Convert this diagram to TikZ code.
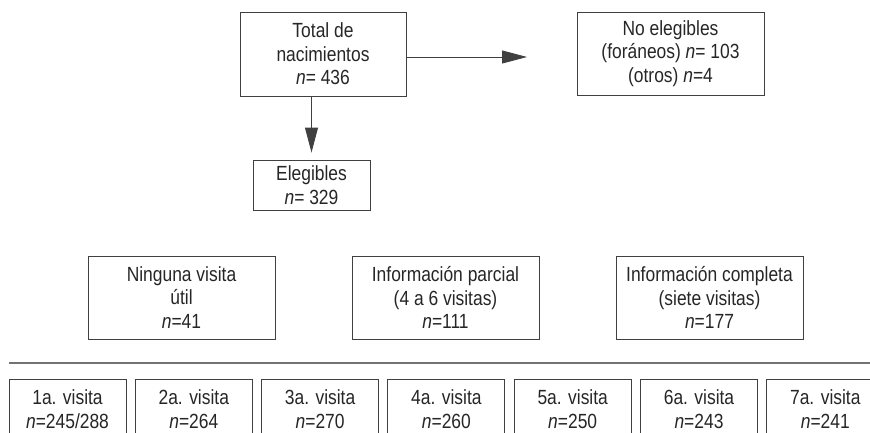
\documentclass[tikz,border=0pt]{standalone}
\usepackage{fontspec}
\setmainfont[FakeStretch=0.85]{Liberation Sans}
\usetikzlibrary{arrows.meta}
\tikzset{>={Triangle[length=25pt,width=13pt]}}
\tikzset{caja/.style={draw=black!75,line width=0.9pt,align=center,inner sep=0pt,text=black!85,
    font=\fontsize{20.5}{23.5}\selectfont}}

\begin{document}
\begin{tikzpicture}[x=1pt,y=1pt]
    \useasboundingbox (0,0) rectangle (870,432);
      \node[caja,minimum width=166pt,minimum height=84pt] (total) at (323,378)
        {Total de\\nacimientos\\\textit{n}= 436};
      \node[caja,minimum width=187pt,minimum height=83pt] (noeleg) at (670.5,378.5)
        {No elegibles\\(for\'aneos) \textit{n}= 103\\(otros) \textit{n}=4};
      \node[caja,minimum width=117pt,minimum height=50pt] (eleg) at (311.5,247)
        {Elegibles\\\textit{n}= 329};
      \coordinate (noelegtip) at (527,375);
      \draw[line width=0.9pt,black!75,->] (total.east |- noelegtip)--(noelegtip);
      \draw[line width=0.9pt,black!75,->] (eleg.north |- total.south)--([yshift=7pt]eleg.north);
      \node[caja,minimum width=187pt,minimum height=83pt] (ninguna) at (181.5,134.5)
        {Ninguna visita\\\'util\\\textit{n}=41};
      \node[caja,minimum width=187pt,minimum height=83pt] (parcial) at (445.5,134.5)
        {Informaci\'on parcial\\(4 a 6 visitas)\\\textit{n}=111};
      \node[caja,minimum width=187pt,minimum height=83pt] (completa) at (709.5,134.5)
        {Informaci\'on completa\\(siete visitas)\\\textit{n}=177};
      \coordinate (lineaizq) at (9,69);
      \coordinate (lineader) at (870,69);
      \draw[line width=1.2pt,black!55] (lineaizq)--(lineader);
      \foreach \k/\num in {1/{245/288},2/264,3/270,4/260,5/250,6/243,7/241}
        \node[caja,minimum width=117pt,minimum height=60pt] (visita\k) at ({67.5+126.3*(\k-1)},23)
          {\k a. visita\\\textit{n}=\num};
     \end{tikzpicture}
\end{document}
